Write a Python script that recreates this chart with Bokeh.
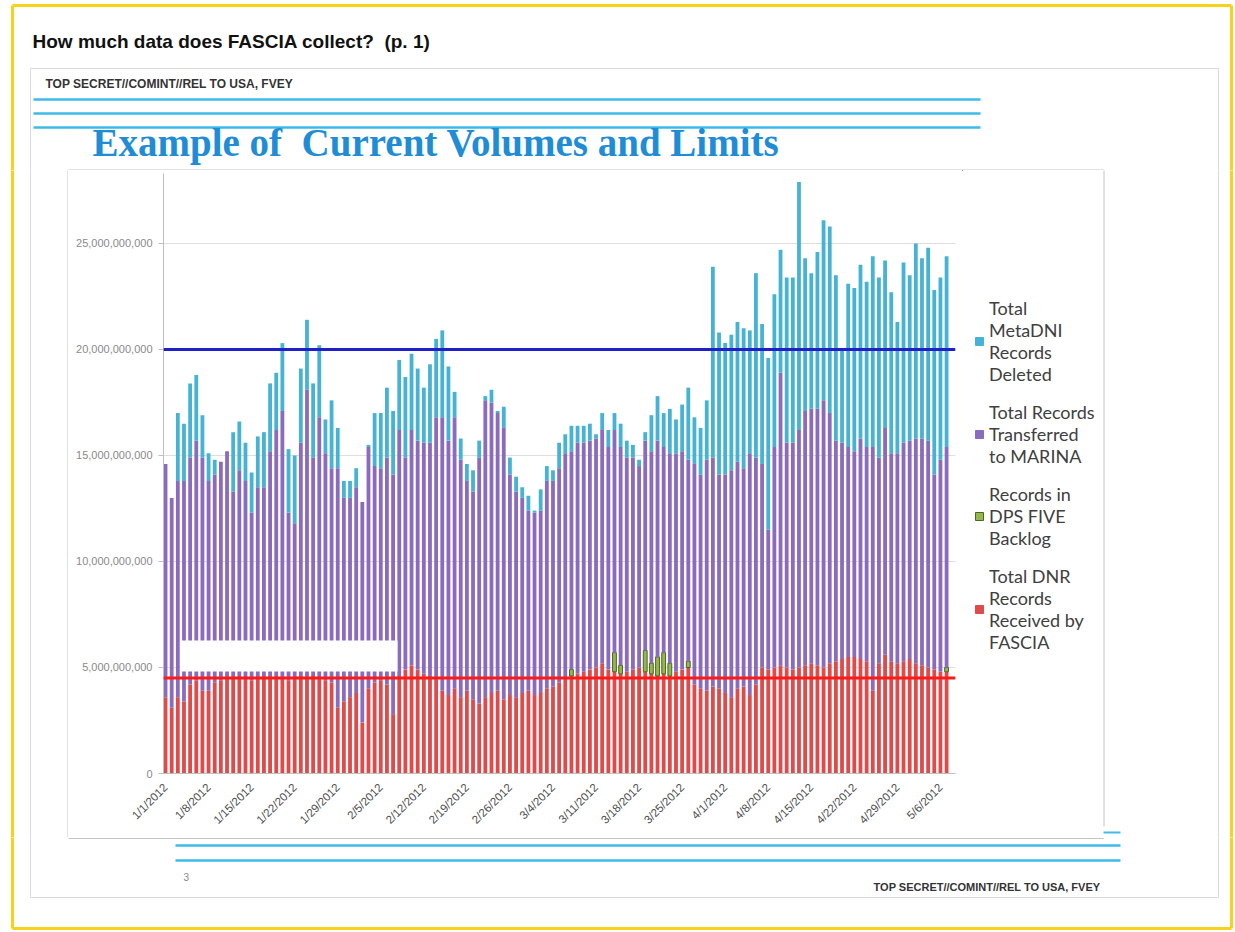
import math
from bokeh.plotting import figure
from bokeh.layouts import column, row
from bokeh.models import (ColumnDataSource, Range1d, FixedTicker, NumeralTickFormatter,
                          Span, BoxAnnotation, Legend, LegendItem)
from bokeh.core.properties import value
from bokeh.embed import file_html
from bokeh.resources import INLINE

# ---------------- data (billions of records per day, 1/1/2012 .. 5/7/2012) -------------
tick_days = [0, 7, 14, 21, 28, 35, 42, 49, 56, 63, 70, 77, 84, 91, 98, 105, 112, 119, 126]
tick_labels = ["1/1/2012", "1/8/2012", "1/15/2012", "1/22/2012", "1/29/2012", "2/5/2012",
               "2/12/2012", "2/19/2012", "2/26/2012", "3/4/2012", "3/11/2012", "3/18/2012",
               "3/25/2012", "4/1/2012", "4/8/2012", "4/15/2012", "4/22/2012", "4/29/2012",
               "5/6/2012"]

received = [3.6, 3.1, 3.6, 3.4, 4.2, 4.4, 3.9, 3.9,
            4.3, 4.4, 4.5, 4.5, 4.6, 4.5, 4.4, 4.5,
            4.6, 4.5, 4.6, 4.5, 4.4, 4.5, 4.6, 4.5,
            4.6, 4.5, 4.4, 4.3, 3.1, 3.4, 3.6, 3.8,
            2.4, 4.0, 4.3, 4.4, 4.2, 2.8, 4.6, 4.9,
            5.1, 4.9, 4.7, 4.6, 4.5, 3.9, 3.7, 4.0,
            3.6, 3.9, 3.5, 3.3, 3.6, 3.8, 3.9, 3.5,
            3.7, 3.6, 3.8, 3.9, 3.7, 3.8, 4.0, 4.1,
            4.3, 4.5, 4.6, 4.7, 4.8, 4.9, 5.0, 5.2,
            4.9, 4.8, 4.7, 4.8, 4.9, 5.0, 4.8, 4.7,
            4.6, 4.7, 4.6, 4.8, 4.9, 5.0, 4.2, 4.0,
            3.9, 4.1, 4.0, 3.8, 3.6, 4.0, 4.1, 3.7,
            4.2, 5.0, 4.9, 5.0, 5.1, 5.0, 4.9, 5.0,
            5.1, 5.2, 5.1, 5.0, 5.2, 5.3, 5.4, 5.5,
            5.5, 5.4, 5.3, 3.9, 5.2, 5.6, 5.3, 5.2,
            5.3, 5.4, 5.2, 5.1, 5.0, 4.9, 4.8, 4.8]

backlog = [0, 0, 0, 0, 0, 0, 0, 0, 0, 0, 0, 0, 0, 0, 0, 0,
           0, 0, 0, 0, 0, 0, 0, 0, 0, 0, 0, 0, 0, 0, 0, 0,
           0, 0, 0, 0, 0, 0, 0, 0, 0, 0, 0, 0, 0, 0, 0, 0,
           0, 0, 0, 0, 0, 0, 0, 0, 0, 0, 0, 0, 0, 0, 0, 0,
           0, 0, 0.3, 0, 0, 0, 0, 0, 0, 0.9, 0.4, 0, 0, 0, 1.0, 0.5,
           0.9, 1.0, 0.6, 0, 0, 0.3, 0, 0, 0, 0, 0, 0, 0, 0, 0, 0,
           0, 0, 0, 0, 0, 0, 0, 0, 0, 0, 0, 0, 0, 0, 0, 0,
           0, 0, 0, 0, 0, 0, 0, 0, 0, 0, 0, 0, 0, 0, 0, 0.2]

transferred = [11.0, 9.9, 10.2, 10.4, 10.7, 11.3, 11.0, 9.9,
               9.8, 10.3, 10.7, 8.8, 9.7, 9.3, 7.9, 9.0,
               8.9, 10.7, 11.6, 12.6, 7.9, 7.3, 11.0, 13.6,
               10.3, 12.3, 10.7, 10.1, 11.3, 9.6, 9.4, 9.7,
               10.4, 11.4, 10.2, 10.0, 10.7, 11.3, 11.6, 10.0,
               11.1, 10.8, 10.9, 11.0, 12.3, 12.9, 12.0, 12.8,
               11.2, 9.9, 9.8, 11.6, 14.0, 13.7, 13.1, 12.8,
               10.4, 9.7, 9.2, 8.5, 8.6, 8.6, 9.8, 9.7,
               10.1, 10.6, 10.3, 10.9, 10.8, 10.8, 10.8, 11.0,
               10.5, 10.5, 10.3, 10.1, 10.0, 9.5, 9.9, 10.0,
               10.2, 9.7, 9.9, 10.3, 10.3, 9.5, 10.4, 10.1,
               10.9, 10.8, 10.1, 10.3, 10.7, 10.7, 10.3, 11.4,
               10.7, 9.6, 6.6, 10.4, 13.8, 10.6, 10.7, 11.2,
               12.0, 12.0, 12.1, 12.6, 11.8, 10.4, 10.2, 9.9,
               9.7, 10.4, 10.1, 11.5, 9.7, 10.7, 9.8, 9.9,
               10.3, 10.3, 10.6, 10.7, 10.7, 9.2, 10.0, 10.4]

deleted = [0, 0, 3.2, 2.7, 3.5, 3.1, 2.0, 1.3,
           0.7, 0, 0, 2.8, 2.3, 1.8, 1.9, 2.4,
           2.6, 3.2, 2.7, 3.2, 3.0, 3.2, 3.5, 3.3,
           3.5, 3.4, 1.6, 3.2, 1.9, 0.8, 0.8, 0.9,
           0, 0.1, 2.5, 2.6, 3.3, 3.0, 3.3, 3.8,
           3.6, 3.4, 2.6, 3.7, 3.7, 4.1, 3.5, 1.2,
           1.0, 0.8, 1.0, 0.8, 0.2, 0.6, 0.1, 1.0,
           0.8, 0.7, 0.5, 0.7, 0.1, 1.0, 0.7, 0.5,
           1.2, 0.9, 1.2, 0.8, 0.8, 0.8, 0.2, 0.8,
           0.8, 0.8, 1.1, 0.8, 0.6, 0.3, 0.4, 1.7,
           2.1, 1.6, 2.1, 1.6, 2.2, 3.4, 2.2, 2.2,
           2.8, 9.0, 6.7, 6.2, 6.4, 6.6, 6.6, 5.8,
           8.7, 6.6, 8.1, 7.2, 5.8, 7.8, 7.8, 11.7,
           7.2, 6.4, 7.4, 8.5, 8.8, 7.8, 4.4, 7.7,
           7.7, 8.2, 7.8, 9.0, 8.5, 7.9, 7.6, 6.2,
           8.5, 7.8, 9.2, 8.5, 9.1, 8.7, 8.6, 9.0]

limit_total = 20.0      # blue limit line (billions)
limit_received = 4.5    # red limit line (billions)

series_keys = ["received", "backlog", "transferred", "deleted"]
series_labels = ["Total DNR\nRecords\nReceived by\nFASCIA",
                 "Records in\nDPS FIVE\nBacklog",
                 "Total Records\nTransferred\nto MARINA",
                 "Total\nMetaDNI\nRecords\nDeleted"]
series_colors = ["#df4a4a", "#93b94a", "#8b6bbd", "#46b3d4"]
backlog_edge = "#4f6228"

page_title = "How much data does FASCIA collect?\u00a0 (p. 1)"
classification = "TOP SECRET//COMINT//REL TO USA, FVEY"
slide_title = "Example of\u00a0 Current Volumes and Limits"
page_number = "3"

B = 1e9
source = ColumnDataSource(dict(
    day=list(range(len(received))),
    received=[v * B for v in received],
    backlog=[v * B for v in backlog],
    transferred=[v * B for v in transferred],
    deleted=[v * B for v in deleted],
    backlog_edge_alpha=[1.0 if v > 0 else 0.0 for v in backlog],
))

YELLOW = "#f6d31a"
GRAY = "#dadada"
BOX = "#c4c4c4"
RULE = "#3dbbe9"


def deco(x0, x1, y0, y1):
    """Decoration panel drawn in page pixel coordinates (y downward)."""
    f = figure(width=x1 - x0, height=y1 - y0, output_backend="svg", toolbar_location=None,
               x_range=Range1d(x0, x1), y_range=Range1d(y1, y0),
               x_axis_location=None, y_axis_location=None, min_border=0,
               frame_align=False)
    f.min_border_left = f.min_border_right = f.min_border_top = f.min_border_bottom = 0
    f.grid.visible = False
    f.outline_line_color = None
    f.background_fill_color = "white"
    f.border_fill_color = "white"
    return f


def seg(f, x0, y0, x1, y1, color, w):
    f.segment(x0=[x0], y0=[y0], x1=[x1], y1=[y1], line_color=color, line_width=w)


def txt(f, x, y, s, size, font="Liberation Sans", color="#222222", style="normal",
        align="left"):
    f.text(x=[x], y=[y], text=[s], text_font=value(font), text_font_size=size,
           text_color=color, text_font_style=style, text_baseline="middle", text_align=align)


# ---------------- header -------------------------------------------------------------
head = deco(0, 1235, 0, 170)
seg(head, 12, 5, 1231, 5, YELLOW, 3)
seg(head, 12, 5, 12, 173, YELLOW, 3)
seg(head, 1231, 5, 1231, 173, YELLOW, 3)
seg(head, 30, 68, 1218, 68, GRAY, 1)
seg(head, 30, 68, 30, 173, GRAY, 1)
seg(head, 1218, 68, 1218, 173, GRAY, 1)
seg(head, 68, 169.5, 1103, 169.5, BOX, 1)
for yy in (99, 113, 127):
    seg(head, 33, yy, 980, yy, RULE, 2.5)
txt(head, 32, 41, page_title, "19px", style="bold", color="#111111")
txt(head, 45, 83, classification, "12px", style="bold", color="#333333")
txt(head, 92, 142, slide_title, "39px", font="Liberation Serif", style="bold", color="#1f8dd6")

# ---------------- middle: left strip, chart, right strip -----------------------------
Y0, Y1 = 170, 837
XC0, XC1 = 68, 962
left = deco(0, XC0, Y0, Y1)
seg(left, 12, Y0 - 3, 12, Y1 + 3, YELLOW, 3)
seg(left, 30, Y0 - 3, 30, Y1 + 3, GRAY, 1)
seg(left, 67.5, Y0 - 3, 67.5, Y1 + 3, BOX, 1)

right = deco(XC1, 1235, Y0, Y1)
seg(right, 1103.5, Y0 - 3, 1103.5, 826, BOX, 1)
seg(right, 1103, 832, 1120, 832, RULE, 2)
seg(right, 1218, Y0 - 3, 1218, Y1 + 3, GRAY, 1)
seg(right, 1231, Y0 - 3, 1231, Y1 + 3, YELLOW, 3)

p = figure(width=XC1 - XC0, height=Y1 - Y0, output_backend="svg", toolbar_location=None,
           x_range=Range1d(-0.33, 128.45), y_range=Range1d(0, 28.3e9),
           min_border_left=95, min_border_right=7, min_border_top=3,
           min_border_bottom=64, frame_align=False)
p.outline_line_color = None
p.background_fill_color = "white"
p.border_fill_color = "white"

renderers = p.vbar_stack(series_keys, x="day", width=0.62, fill_color=series_colors,
                         line_color=[None, backlog_edge, None, None],
                         line_alpha=[0, "backlog_edge_alpha", 0, 0],
                         line_width=1, source=source)

p.yaxis.ticker = FixedTicker(ticks=[0, 5e9, 10e9, 15e9, 20e9, 25e9])
p.yaxis.formatter = NumeralTickFormatter(format="0,0")
p.yaxis.axis_line_color = "#bfbfbf"
p.yaxis.major_tick_line_color = "#bfbfbf"
p.yaxis.major_tick_out = 5
p.yaxis.major_tick_in = 0
p.yaxis.minor_tick_line_color = None
p.yaxis.major_label_text_font = "Liberation Sans"
p.yaxis.major_label_text_font_size = "11px"
p.yaxis.major_label_text_color = "#8a8a8a"
p.yaxis.major_label_standoff = 6

p.xaxis.ticker = FixedTicker(ticks=tick_days)
p.xaxis.major_label_overrides = {d: lab for d, lab in zip(tick_days, tick_labels)}
p.xaxis.major_label_orientation = math.pi / 4
p.xaxis.axis_line_color = "#bfbfbf"
p.xaxis.major_tick_line_color = None
p.xaxis.minor_tick_line_color = None
p.xaxis.major_label_text_font = "Liberation Sans"
p.xaxis.major_label_text_font_size = "11.5px"
p.xaxis.major_label_text_color = "#4d4d4d"
p.xaxis.major_label_standoff = 6

p.xgrid.grid_line_color = None
p.ygrid.grid_line_color = "#dedede"

p.add_layout(Span(location=limit_total * B, dimension="width", line_color="#2020c8", line_width=3))
p.add_layout(Span(location=limit_received * B, dimension="width", line_color="#ff1a1a", line_width=3))

# white patch over the lower-left bars (frame-relative screen px)
p.add_layout(BoxAnnotation(left=17, right=234, bottom=102, top=133,
                           left_units="screen", right_units="screen",
                           top_units="screen", bottom_units="screen",
                           fill_color="white", fill_alpha=1, line_color=None))

# legend drawn in the right strip; proxy glyphs (outside the strip's view) carry the colours
proxies = []
for i, c in enumerate(series_colors):
    proxies.append(right.vbar(x=[0], bottom=[0], top=[1], width=1, fill_color=c,
                              line_color=backlog_edge if series_keys[i] == "backlog" else c))
items = [LegendItem(label=series_labels[i], renderers=[proxies[i]]) for i in [3, 2, 1, 0]]
legend = Legend(items=items, location=(12, 184), border_line_color=None,
                background_fill_alpha=0, label_text_font="Lato", label_text_font_size="18px",
                label_text_color="#404040", glyph_width=10,
                glyph_height=10, label_standoff=5, spacing=16, padding=0, margin=0)
right.add_layout(legend)

# ---------------- footer -------------------------------------------------------------
foot = deco(0, 1235, Y1, 931)
seg(foot, 68, 838, 1103, 838, BOX, 1)
seg(foot, 12, Y1 - 3, 12, 928, YELLOW, 3)
seg(foot, 1231, Y1 - 3, 1231, 928, YELLOW, 3)
seg(foot, 12, 928, 1231, 928, YELLOW, 3)
seg(foot, 30, Y1 - 3, 30, 897, GRAY, 1)
seg(foot, 1218, Y1 - 3, 1218, 897, GRAY, 1)
seg(foot, 30, 897, 1218, 897, GRAY, 1)
for yy in (845, 860):
    seg(foot, 175, yy, 1120, yy, RULE, 2.5)
txt(foot, 183, 876, page_number, "10px", color="#888888")
txt(foot, 1100, 886, classification, "11px", style="bold", color="#333333", align="right")

layout = column(head, row(left, p, right, spacing=0), foot, spacing=0)
open("out.html", "w").write(file_html(layout, INLINE))
